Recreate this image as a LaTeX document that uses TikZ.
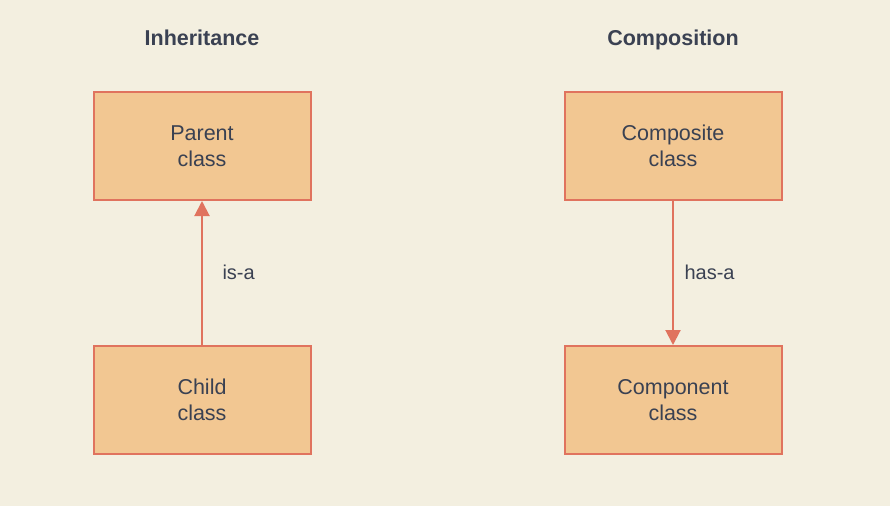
\documentclass[tikz,border=0pt]{standalone}
\usepackage{fontspec}
\setmainfont{Liberation Sans}
\usetikzlibrary{arrows.meta}
\definecolor{bg}{HTML}{F3EFE0}
\definecolor{boxfill}{HTML}{F2C792}
\definecolor{boxline}{HTML}{E0735E}
\definecolor{ink}{HTML}{3A4152}
\tikzset{
  classbox/.style={draw=boxline, fill=boxfill, line width=2pt, minimum width=217pt, minimum height=108pt, inner sep=0pt, align=center, text=ink, font=\fontsize{21.5}{26}\selectfont},
  title/.style={text=ink, font=\bfseries\fontsize{21.5}{24}\selectfont, anchor=base},
  conn/.style={draw=boxline, line width=2pt, -{Triangle[length=15pt,width=15pt]}},
  lbl/.style={text=ink, font=\fontsize{20}{24}\selectfont, anchor=base west}
}
\begin{document}
\begin{tikzpicture}[x=1pt,y=-1pt]
\fill[bg] (0,0) rectangle (890,506);
\useasboundingbox (0,0) rectangle (890,506);
\node[title] (t1) at (202,45) {Inheritance};
\node[title] (t2) at (673,45) {Composition};
\node[classbox] (parent) at (202,146) {Parent\\class};
\node[classbox] (child) at (202,400) {Child\\class};
\node[classbox] (composite) at (673,146) {Composite\\class};
\node[classbox] (component) at (673,400) {Component\\class};
\draw[conn] (child.north) -- (parent.south);
\draw[conn] (composite.south) -- (component.north);
\node[lbl] (l1) at (219,279) {is-a};
\node[lbl] (l2) at (681,279) {has-a};
\end{tikzpicture}
\end{document}
